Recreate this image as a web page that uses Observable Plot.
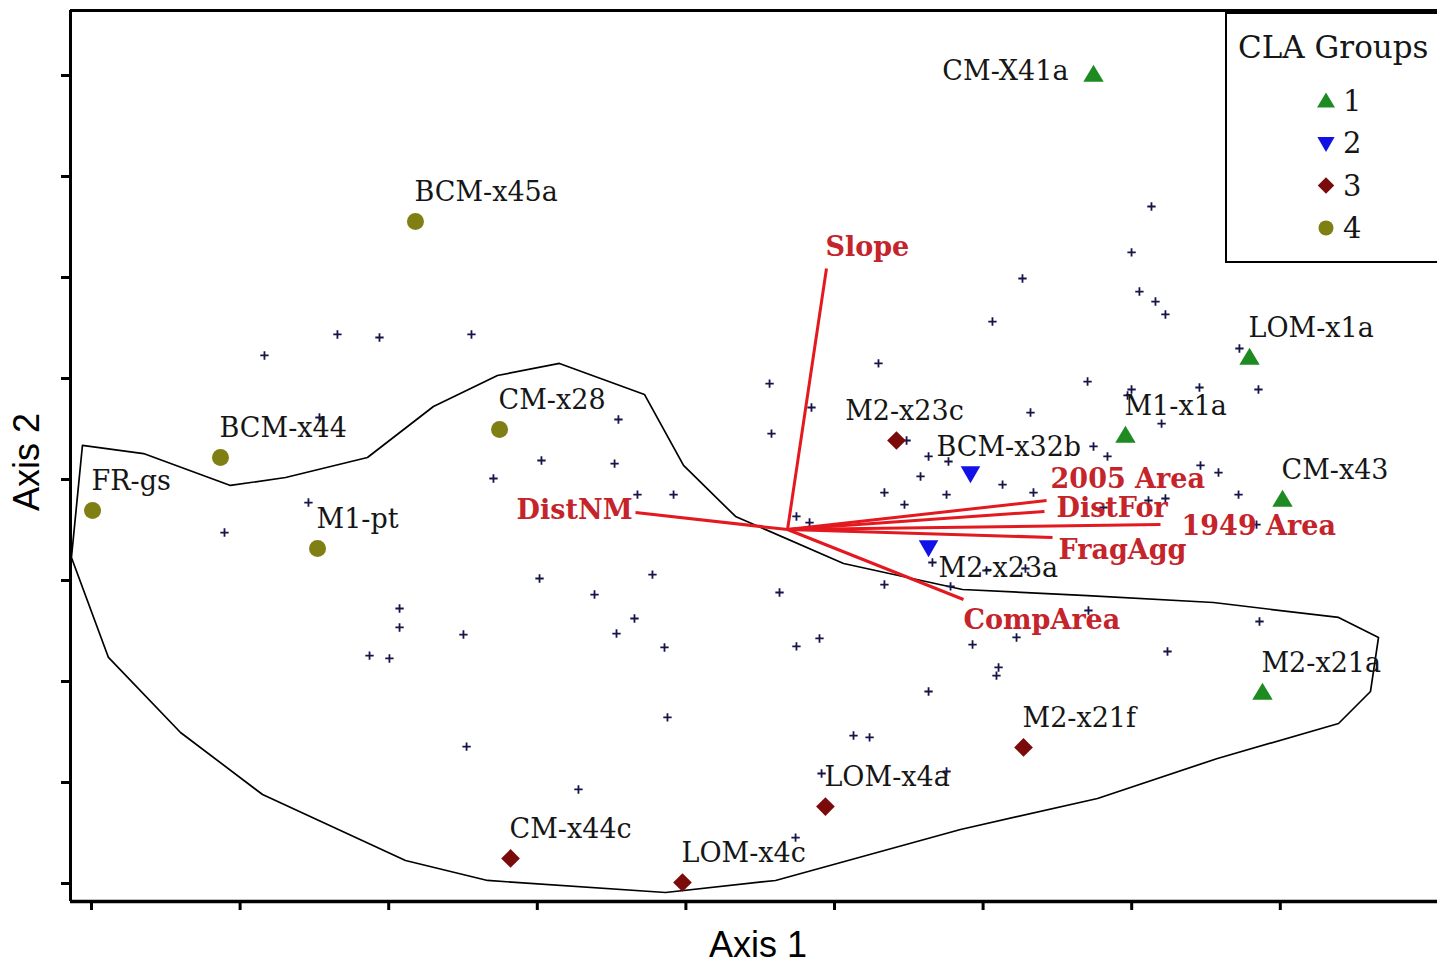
<!DOCTYPE html>
<html>
<head>
<meta charset="utf-8">
<script src="https://cdn.jsdelivr.net/npm/d3@7"></script>
<script src="https://cdn.jsdelivr.net/npm/@observablehq/plot@0.6"></script>
<style>
  html, body { margin: 0; padding: 0; background: white; overflow: hidden; }
</style>
</head>
<body>
<script>
// ---------- DATA (axis units; one tick = one unit) ----------
const xTicks = [0, 1, 2, 3, 4, 5, 6, 7, 8];
const yTicks = [0, 1, 2, 3, 4, 5, 6, 7, 8];

const groups = ["1", "2", "3", "4"];

// Labelled sites (CLA groups)
const siteNames = ["CM-X41a", "LOM-x1a", "M1-x1a", "CM-x43", "M2-x21a",
                   "BCM-x32b", "M2-x23a",
                   "M2-x23c", "M2-x21f", "LOM-x4a", "CM-x44c", "LOM-x4c",
                   "BCM-x45a", "BCM-x44", "FR-gs", "CM-x28", "M1-pt"];
const siteX = [6.743, 7.793, 6.958, 8.015, 7.880,
               5.915, 5.633,
               5.417, 6.272, 4.939, 2.820, 3.977,
               2.180, 0.868, 0.007, 2.746, 1.521];
const siteY = [8.010, 5.208, 4.436, 3.802, 1.891,
               4.059, 3.327,
               4.386, 1.347, 0.762, 0.248, 0.010,
               6.554, 4.218, 3.693, 4.495, 3.317];
const siteGroup = ["1", "1", "1", "1", "1",
                   "2", "2",
                   "3", "3", "3", "3", "3",
                   "4", "4", "4", "4", "4"];

// Unlabelled plots (small markers)
const plotX = [1.164, 1.655, 1.938, 2.557, 1.534, 1.460, 0.895, 1.521, 3.028, 2.705,
               3.015, 2.073, 2.073, 2.503, 1.871, 2.005, 2.524, 3.546, 3.520, 3.674,
               3.917, 3.775, 3.385, 3.654, 3.533, 3.856, 3.876, 3.277, 4.563, 4.845,
               4.576, 5.296, 4.744, 4.832, 4.630, 4.744, 4.899, 5.128, 5.236, 4.913,
               4.738, 5.336, 5.471, 5.754, 5.336, 5.781, 5.659, 5.633, 5.485, 5.633,
               5.767, 5.579, 5.754, 5.929, 6.225, 6.709, 6.104, 6.090, 6.131, 6.339,
               6.023, 6.285, 6.810, 7.113, 7.227, 7.719, 7.840, 7.241, 7.860, 7.880,
               7.133, 6.999, 6.265, 7.052, 7.160, 7.227, 6.063, 7.725, 7.853, 6.703,
               6.999, 6.972, 7.456, 7.201, 6.319, 6.743, 6.837, 7.463, 7.584];
const plotY = [5.228, 5.436, 5.406, 5.436, 4.614, 3.772, 3.475, 3.317, 4.188, 4.010,
               3.020, 2.723, 2.535, 2.465, 2.257, 2.228, 1.356, 4.594, 4.158, 3.851,
               3.851, 3.059, 2.861, 2.624, 2.475, 2.337, 1.644, 0.931, 4.950, 4.713,
               4.455, 5.149, 3.634, 3.574, 2.881, 2.347, 2.426, 1.465, 1.446, 1.089,
               0.455, 3.871, 3.752, 3.851, 2.960, 2.941, 3.178, 1.901, 4.386, 4.228,
               4.178, 4.030, 1.109, 2.366, 2.436, 2.703, 2.139, 2.059, 3.950, 3.871,
               3.099, 3.119, 3.723, 3.792, 3.812, 3.851, 3.554, 2.297, 2.594, 1.891,
               6.703, 6.248, 5.990, 5.861, 5.762, 5.634, 5.564, 5.297, 4.891, 4.970,
               4.891, 4.832, 4.911, 4.554, 4.663, 4.327, 4.228, 4.139, 4.069];

// Outline (hull) around a group of plots
const hullX = [-0.061, 0.350, 0.935, 1.306, 1.857, 2.301, 2.732, 3.149, 3.721, 3.984,
               4.334, 5.061, 5.861, 6.703, 7.550, 8.392, 8.661, 8.607, 8.392, 7.577,
               6.770, 5.848, 4.603, 3.863, 2.665, 2.113, 1.151, 0.599, 0.114, -0.135];
const hullY = [4.337, 4.257, 3.941, 4.020, 4.218, 4.723, 5.030, 5.149, 4.842, 4.139,
               3.634, 3.168, 2.911, 2.851, 2.782, 2.634, 2.436, 1.901, 1.584, 1.238,
               0.842, 0.535, 0.030, -0.089, 0.030, 0.228, 0.881, 1.495, 2.238, 3.228];

// Environmental vectors (joint plot)
const vecOrigin = [4.684, 3.505];
const vecNames = ["Slope", "DistNM", "CompArea", "2005 Area", "DistFor", "1949 Area", "FragAgg"];
const vecX = [4.946, 3.661, 5.868, 6.427, 6.413, 7.194, 6.467];
const vecY = [6.089, 3.673, 2.812, 3.792, 3.683, 3.554, 3.426];

// ---------- build tables ----------
const sites = siteNames.map((name, i) => ({name, x: siteX[i], y: siteY[i], group: siteGroup[i]}));
const plots = plotX.map((x, i) => ({x, y: plotY[i]}));
const hull = hullX.map((x, i) => ({x, y: hullY[i]}));
const vectors = vecNames.map((name, i) => ({name, x1: vecOrigin[0], y1: vecOrigin[1], x2: vecX[i], y2: vecY[i]}));

// ---------- styles ----------
const groupColors = ["#1e8b22", "#1212e6", "#7b0b0b", "#7f7f14"];
const rad = size => Math.sqrt(size / Math.PI);
const symUp = {draw(c, s) { const r = rad(s); c.moveTo(0, -1.15 * r); c.lineTo(1.2 * r, 0.85 * r); c.lineTo(-1.2 * r, 0.85 * r); c.closePath(); }};
const symDown = {draw(c, s) { const r = rad(s); c.moveTo(0, 1.15 * r); c.lineTo(1.15 * r, -0.85 * r); c.lineTo(-1.15 * r, -0.85 * r); c.closePath(); }};
const symDiamond = {draw(c, s) { const r = rad(s) * 1.1; c.moveTo(0, -r); c.lineTo(r, 0); c.lineTo(0, r); c.lineTo(-r, 0); c.closePath(); }};
const symCircle = {draw(c, s) { const r = rad(s); c.moveTo(r, 0); c.arc(0, 0, r, 0, 2 * Math.PI); }};
const groupSymbols = [symUp, symDown, symDiamond, symCircle];

const serif = "DejaVu Serif";
const labelColor = "#161616";
const vecColor = "#e3191f";
const vecTextColor = "#c4242a";

const xDomain = [(70 - 91) / 148.6, (1437 - 91) / 148.6];
const yDomain = [(883 - 901) / 101, (883 - 10) / 101];

const special = {
  "CM-X41a": {textAnchor: "end", dx: -25, dy: -3},
  "M2-x23c": {textAnchor: "middle", dx: 8, dy: -29},
  "BCM-x32b": {textAnchor: "start", dx: -34, dy: -26},
  "M2-x23a": {textAnchor: "start", dx: 10, dy: 21}
};
const vecLabelPos = {
  "Slope": {textAnchor: "start", dx: -1, dy: -21},
  "DistNM": {textAnchor: "end", dx: -3, dy: -2},
  "2005 Area": {textAnchor: "start", dx: 4, dy: -21},
  "DistFor": {textAnchor: "start", dx: 12, dy: -3},
  "1949 Area": {textAnchor: "start", dx: 21, dy: 2},
  "FragAgg": {textAnchor: "start", dx: 6, dy: 13},
  "CompArea": {textAnchor: "start", dx: 0, dy: 21}
};

const siteLabelMarks = [
  Plot.text(sites, {x: "x", y: "y", text: "name", filter: d => !special[d.name],
    textAnchor: "start", dx: -1, dy: -29, fontFamily: serif, fontSize: 27, fill: labelColor})
].concat(Object.entries(special).map(([name, o]) =>
  Plot.text(sites, {x: "x", y: "y", text: "name", filter: d => d.name === name,
    ...o, fontFamily: serif, fontSize: 27, fill: labelColor})));

const vecLabelMarks = Object.entries(vecLabelPos).map(([name, o]) =>
  Plot.text(vectors, {x: "x2", y: "y2", text: "name", filter: d => d.name === name,
    ...o, fontFamily: serif, fontWeight: "bold", fontSize: 27, fill: vecTextColor}));

const chart = Plot.plot({
  width: 1437,
  height: 965,
  marginLeft: 70,
  marginRight: 0,
  marginTop: 10,
  marginBottom: 64,
  style: {background: "white", overflow: "hidden"},
  x: {domain: xDomain, axis: null},
  y: {domain: yDomain, axis: null},
  symbol: {domain: groups, range: groupSymbols},
  color: {domain: groups, range: groupColors},
  marks: [
    Plot.line(hull, {x: "x", y: "y", curve: "linear-closed", stroke: "black", strokeWidth: 1.7}),
    Plot.dot(plots, {x: "x", y: "y", symbol: "plus", r: 2.8, stroke: "#15154a", strokeWidth: 1.8}),
    Plot.link(vectors, {x1: "x1", y1: "y1", x2: "x2", y2: "y2", stroke: vecColor, strokeWidth: 3}),
    Plot.dot(sites, {x: "x", y: "y", symbol: "group", fill: "group", r: 8.5, stroke: null}),
    ...siteLabelMarks,
    ...vecLabelMarks,
    Plot.axisX(xTicks, {anchor: "bottom", tickSize: 9, strokeWidth: 3, tickFormat: () => "", label: null}),
    Plot.axisY(yTicks, {anchor: "left", tickSize: 9, strokeWidth: 3, tickFormat: () => "", label: null}),
    Plot.ruleX([xDomain[0]], {stroke: "black", strokeWidth: 3}),
    Plot.ruleY([yDomain[0]], {stroke: "black", strokeWidth: 3.5}),
    Plot.ruleY([yDomain[1]], {stroke: "black", strokeWidth: 3}),
    Plot.text(["Axis 1"], {frameAnchor: "bottom", textAnchor: "middle", lineAnchor: "middle", dx: 4, dy: 44,
      fontFamily: "Liberation Sans", fontSize: 36, fill: "black"}),
    Plot.text(["Axis 2"], {frameAnchor: "left", textAnchor: "middle", lineAnchor: "middle", rotate: -90, dx: -43, dy: 6,
      fontFamily: "Liberation Sans", fontSize: 36, fill: "black"})
  ]
});

// ---------- legend (CLA Groups) ----------
const svg = d3.select(chart);
const lg = svg.append("g").attr("text-anchor", "start");
lg.append("rect").attr("x", 1226).attr("y", 13).attr("width", 240).attr("height", 249)
  .attr("fill", "white").attr("stroke", "black").attr("stroke-width", 2);
lg.append("text").attr("x", 1238).attr("y", 47).attr("dy", "0.35em").attr("text-anchor", "start")
  .attr("font-family", serif).attr("font-size", 31).attr("fill", labelColor).text("CLA Groups");
groups.forEach((g, i) => {
  const cy = 101 + i * 42.3;
  lg.append("path").attr("d", d3.symbol(groupSymbols[i], Math.PI * 7.5 * 7.5)())
    .attr("transform", `translate(1326,${cy})`).attr("fill", groupColors[i]);
  lg.append("text").attr("x", 1343).attr("y", cy).attr("dy", "0.35em").attr("text-anchor", "start")
    .attr("font-family", serif).attr("font-size", 29).attr("fill", labelColor).text(g);
});

document.body.appendChild(chart);
</script>
</body>
</html>
